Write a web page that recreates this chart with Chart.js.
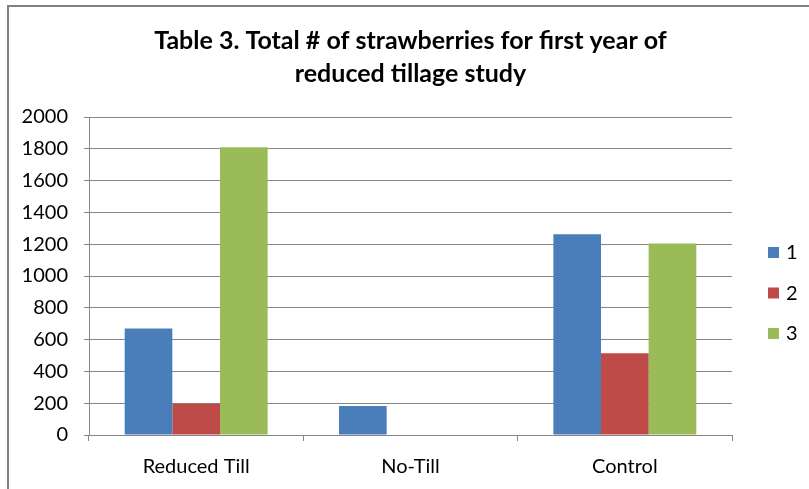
<!DOCTYPE html>
<html>
<head>
<meta charset="utf-8">
<script src="https://cdn.jsdelivr.net/npm/chart.js@4/dist/chart.umd.min.js"></script>
<style>
  html, body { margin: 0; padding: 0; background: #fff; }
  #wrap { width: 809px; height: 489px; position: relative; }
</style>
</head>
<body>
<div id="wrap"><canvas id="chart"></canvas></div>
<script>
"use strict";
var categories = ['Reduced Till', 'No-Till', 'Control'];
var series1 = [670, 183, 1262];
var series2 = [197, 0, 514];
var series3 = [1810, 0, 1205];
var seriesNames = ['1', '2', '3'];
var yTicks = [0, 200, 400, 600, 800, 1000, 1200, 1400, 1600, 1800, 2000];

var colors = ['#4A7EBB', '#BE4B48', '#9BBB59'];
var gridColor = '#868686';
var fontFamily = "Lato, 'Open Sans', 'Liberation Sans', sans-serif";

// frame around the chart + custom right legend
var framePlugin = {
    id: 'frame',
    beforeDraw: function (chart) {
        var ctx = chart.ctx;
        ctx.save();
        ctx.fillStyle = '#fff';
        ctx.fillRect(0, 0, chart.width, chart.height);
        ctx.strokeStyle = '#808080';
        ctx.lineWidth = 2;
        ctx.strokeRect(8, 6, chart.width + 10, chart.height + 10);
        ctx.restore();
    },
    afterDraw: function (chart) {
        var ctx = chart.ctx;
        ctx.save();
        ctx.font = '20px ' + fontFamily;
        ctx.textBaseline = 'middle';
        chart.data.datasets.forEach(function (ds, i) {
            var y = 252 + i * 40.5;
            ctx.fillStyle = ds.backgroundColor;
            ctx.fillRect(768, y - 5, 11, 11);
            ctx.fillStyle = '#000';
            ctx.fillText(ds.label, 786, y + 1);
        });
        ctx.restore();
    }
};

var context = document.getElementById('chart');
new Chart(context, {
    type: 'bar',
    data: {
        labels: categories,
        datasets: [
            { label: seriesNames[0], data: series1, backgroundColor: colors[0] },
            { label: seriesNames[1], data: series2, backgroundColor: colors[1] },
            { label: seriesNames[2], data: series3, backgroundColor: colors[2] }
        ]
    },
    options: {
        responsive: true,
        maintainAspectRatio: false,
        animation: false,
        layout: { padding: { left: 0, right: 77, top: 0, bottom: 0 } },
        datasets: { bar: { categoryPercentage: 0.667, barPercentage: 1.0, borderWidth: 0 } },
        plugins: {
            legend: { display: false },
            tooltip: { enabled: false },
            title: {
                display: true,
                fullSize: false,
                text: ['Table 3. Total # of strawberries for first year of', 'reduced tillage study'],
                color: '#000',
                font: { family: fontFamily, size: 25, weight: 'bold', lineHeight: 1.32 },
                padding: { top: 24, bottom: 27 }
            }
        },
        scales: {
            x: {
                afterFit: function (scale) { scale.height = 54; },
                grid: {
                    offset: true,
                    drawOnChartArea: false,
                    drawTicks: true,
                    tickLength: 6,
                    color: gridColor
                },
                border: { color: gridColor },
                ticks: {
                    color: '#000',
                    padding: 14,
                    font: { family: fontFamily, size: 20 }
                }
            },
            y: {
                min: 0,
                max: 2000,
                afterFit: function (scale) { scale.width = 89; },
                afterBuildTicks: function (scale) {
                    scale.ticks = yTicks.map(function (v) { return { value: v }; });
                },
                grid: {
                    color: gridColor,
                    tickLength: 5
                },
                border: { color: gridColor },
                ticks: {
                    color: '#000',
                    padding: 16,
                    font: { family: fontFamily, size: 20 },
                    callback: function (value) { return String(value); }
                }
            }
        }
    },
    plugins: [framePlugin]
});
</script>
</body>
</html>
